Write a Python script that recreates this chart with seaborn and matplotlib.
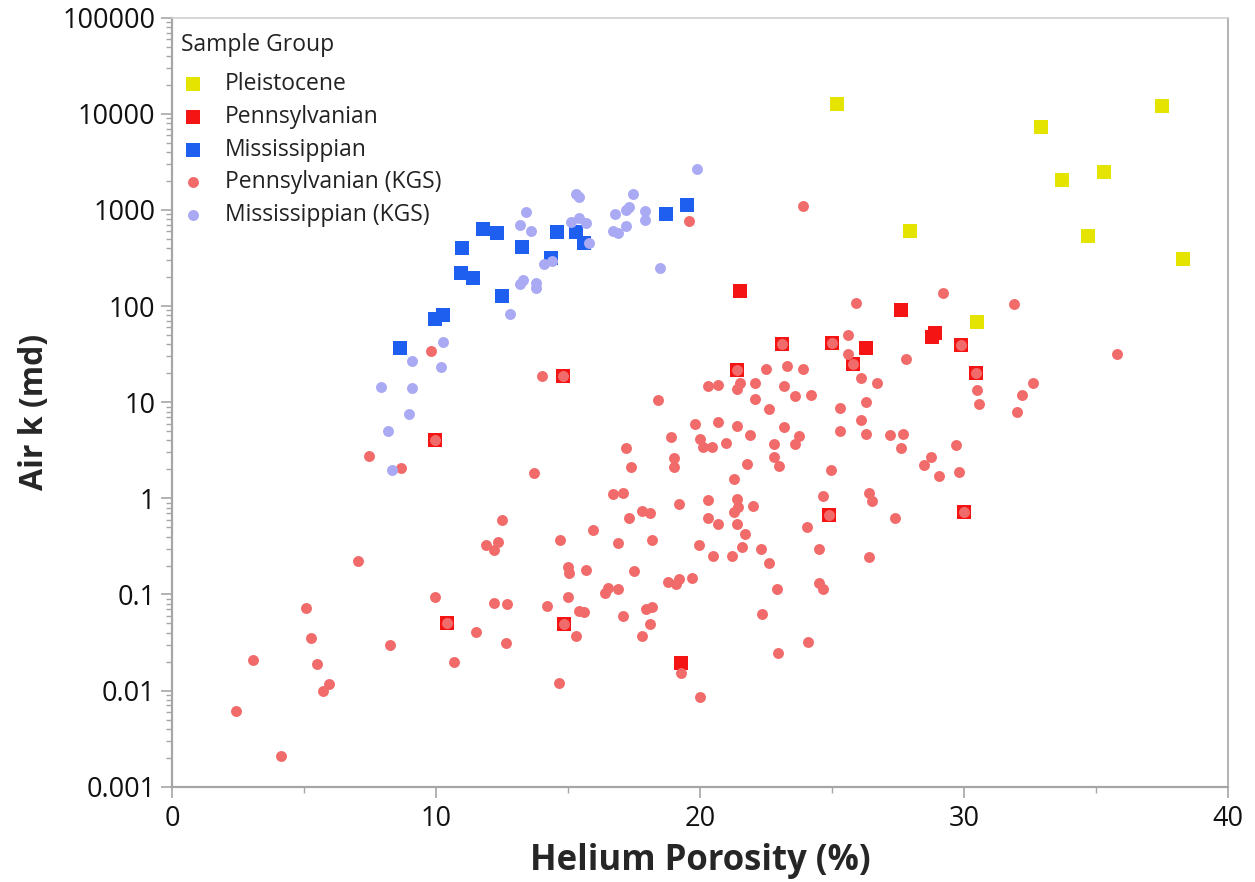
import numpy as np
import pandas as pd
import matplotlib
matplotlib.use("Agg")
import matplotlib.pyplot as plt
import seaborn as sns
from matplotlib.ticker import LogLocator, FixedLocator, FixedFormatter, NullFormatter, MultipleLocator

# ---- data: helium porosity (%) and air permeability (md) ----
pleistocene_phi = [25.2, 32.9, 33.7, 35.3, 34.7, 37.5, 38.3, 27.95, 30.5]
pleistocene_k = [12600, 7250, 2040, 2470, 530, 12000, 309, 600, 69]

pennsylvanian_phi = [21.5, 27.6, 26.3, 28.8, 28.9, 19.3, 14.8, 9.96, 10.4, 14.85,
                     21.4, 23.1, 25.0, 25.8, 29.9, 30.45, 24.9, 30.0]
pennsylvanian_k = [143, 91, 37, 48, 52, 0.0196, 18.6, 4.0, 0.05, 0.049,
                   21.5, 40, 41, 24.7, 39, 20, 0.67, 0.72]

mississippian_phi = [11.8, 12.3, 11.0, 13.26, 14.6, 15.3, 15.6, 14.36, 10.95, 11.4,
                     12.5, 9.96, 10.27, 8.64, 18.7, 19.5]
mississippian_k = [631, 575, 398, 408, 590, 590, 450, 315, 219, 195,
                   126, 74, 80, 36.5, 910, 1120]

penn_kgs_phi = [
    19.6, 23.9, 9.8, 14.0, 14.8, 9.96, 18.4, 20.3, 20.7, 19.8, 18.9, 20.0, 20.1, 20.45, 17.2,
    29.2, 25.9, 25.6, 25.6, 25.8, 27.8, 26.1, 26.7, 26.3, 25.3, 26.1, 25.3, 26.3, 27.2, 27.7,
    27.6, 29.7, 28.75, 28.5, 29.8, 29.05, 24.96, 30.5, 30.56,
    23.9, 23.3, 22.5, 23.2, 23.6, 24.2, 22.6, 22.1, 22.1, 21.4, 21.5, 21.4,
    21.4, 20.7, 23.2, 23.75, 23.6, 21.9, 22.8, 22.8, 23.0, 21.0, 19.0, 19.0, 21.8, 21.3,
    31.9, 35.8, 32.6, 32.2, 32.0, 23.1, 25.0, 29.9, 30.45,
    7.46, 8.67, 12.5, 11.9, 12.35, 12.2, 7.05, 9.96, 12.2, 12.7, 5.08, 5.27, 8.26, 10.4,
    11.5, 12.65, 3.07, 5.5, 10.7, 5.95, 5.72, 2.42, 4.13,
    17.4, 13.7, 16.7, 17.1, 19.2, 20.3, 21.4, 21.45, 21.3, 22.0, 17.8, 18.1, 17.3, 20.3,
    20.7, 21.4, 21.7, 14.7, 15.95, 16.9, 18.2, 19.96, 20.5, 21.2, 21.6, 22.3, 22.6, 15.0,
    15.04, 15.7, 17.5, 18.8, 19.1, 19.2, 19.7, 16.5, 16.4, 16.9, 22.9, 15.0, 14.2, 15.4,
    15.6, 17.95, 18.2, 17.1, 22.35, 18.1, 14.85, 15.3, 17.8, 19.3, 14.66, 20.0, 22.95,
    24.66, 26.4, 26.5, 27.4, 24.9, 30.0, 24.05, 24.5, 26.4, 24.5, 24.66, 24.1,
]
penn_kgs_k = [
    760, 1090, 34, 18.6, 18.6, 4.0, 10.5, 14.6, 15.0, 6.0, 4.3, 4.1, 3.4, 3.4, 3.3,
    138, 107, 50, 31.6, 24.7, 28, 17.7, 15.8, 10, 8.7, 6.6, 5.0, 4.7, 4.6, 4.7,
    3.3, 3.55, 2.7, 2.2, 1.86, 1.69, 1.95, 13.3, 9.5,
    22, 23.7, 22, 14.6, 11.5, 12, 8.4, 16, 10.7, 21.5, 15.8, 13.6,
    5.6, 6.2, 5.5, 4.5, 3.7, 4.6, 3.7, 2.7, 2.15, 3.8, 2.6, 2.1, 2.3, 1.6,
    105, 32, 15.8, 11.8, 8.0, 40, 41, 39, 20,
    2.74, 2.05, 0.59, 0.33, 0.35, 0.29, 0.225, 0.093, 0.081, 0.079, 0.072, 0.035, 0.030, 0.05,
    0.041, 0.031, 0.0206, 0.019, 0.020, 0.0118, 0.0098, 0.0062, 0.0021,
    2.1, 1.82, 1.1, 1.13, 0.87, 0.95, 0.98, 0.81, 0.72, 0.83, 0.73, 0.70, 0.63, 0.63,
    0.54, 0.54, 0.43, 0.37, 0.47, 0.34, 0.37, 0.33, 0.25, 0.25, 0.31, 0.30, 0.21, 0.195,
    0.166, 0.18, 0.174, 0.135, 0.128, 0.144, 0.15, 0.118, 0.103, 0.113, 0.113, 0.093, 0.075, 0.068,
    0.066, 0.070, 0.074, 0.059, 0.063, 0.049, 0.049, 0.037, 0.037, 0.0151, 0.0119, 0.0085, 0.0244,
    1.05, 1.13, 0.93, 0.62, 0.67, 0.72, 0.50, 0.30, 0.245, 0.131, 0.113, 0.032,
]

miss_kgs_phi = [19.9, 15.3, 15.4, 17.45, 13.4, 16.8, 17.2, 17.3, 17.9, 17.9, 17.2, 16.7, 16.9,
                13.2, 13.6, 15.1, 15.4, 15.7, 15.8, 14.1, 14.4, 13.3, 13.2, 13.8, 13.8, 12.8,
                18.5, 10.27, 9.1, 10.2, 7.9, 9.1, 8.98, 8.2, 8.33]
miss_kgs_k = [2650, 1480, 1350, 1450, 945, 910, 1000, 1070, 970, 780, 680, 600, 570,
              690, 600, 745, 815, 725, 450, 272, 293, 186, 168, 173, 154, 82,
              247, 42, 26.7, 23, 14.3, 14, 7.6, 5.0, 1.96]

groups = ["Pleistocene", "Pennsylvanian", "Mississippian",
          "Pennsylvanian (KGS)", "Mississippian (KGS)"]
series = {
    "Pleistocene": (pleistocene_phi, pleistocene_k),
    "Pennsylvanian": (pennsylvanian_phi, pennsylvanian_k),
    "Mississippian": (mississippian_phi, mississippian_k),
    "Pennsylvanian (KGS)": (penn_kgs_phi, penn_kgs_k),
    "Mississippian (KGS)": (miss_kgs_phi, miss_kgs_k),
}
colors = {
    "Pleistocene": "#E4E400",
    "Pennsylvanian": "#F51414",
    "Mississippian": "#1F5FF0",
    "Pennsylvanian (KGS)": "#F26B6B",
    "Mississippian (KGS)": "#A9A9F4",
}
markers = {"Pleistocene": "s", "Pennsylvanian": "s", "Mississippian": "s",
           "Pennsylvanian (KGS)": "o", "Mississippian (KGS)": "o"}
sizes = {"Pleistocene": 105, "Pennsylvanian": 105, "Mississippian": 105,
         "Pennsylvanian (KGS)": 62, "Mississippian (KGS)": 62}

frames = []
for g in groups:
    phi, k = series[g]
    frames.append(pd.DataFrame({"Helium Porosity (%)": phi, "Air k (md)": k, "Sample Group": g}))
df = pd.concat(frames, ignore_index=True)

sns.set_style("white")
plt.rcParams["font.family"] = ["Open Sans", "DejaVu Sans"]

fig = plt.figure(figsize=(12.55, 8.82), dpi=100)
ax = fig.add_axes([0.137, 0.108, 0.8415, 0.872])

# squares first, survey circles on top
for g in groups:
    sub = df[df["Sample Group"] == g]
    sns.scatterplot(data=sub, x="Helium Porosity (%)", y="Air k (md)", ax=ax,
                    color=colors[g], marker=markers[g], s=sizes[g],
                    linewidth=0, label=g, zorder=3)

ax.set_yscale("log")
ax.set_xlim(0, 40)
ax.set_ylim(0.001, 100000)

ytick_vals = [0.001, 0.01, 0.1, 1, 10, 100, 1000, 10000, 100000]
ytick_lbls = ["0.001", "0.01", "0.1", "1", "10", "100", "1000", "10000", "100000"]
ax.yaxis.set_major_locator(FixedLocator(ytick_vals))
ax.yaxis.set_major_formatter(FixedFormatter(ytick_lbls))
ax.yaxis.set_minor_locator(LogLocator(base=10, subs=np.arange(2, 10), numticks=20))
ax.yaxis.set_minor_formatter(NullFormatter())
ax.xaxis.set_major_locator(MultipleLocator(10))
ax.xaxis.set_minor_locator(MultipleLocator(5))

spine_col = "#A6A6A6"
for side in ["left", "bottom", "right", "top"]:
    ax.spines[side].set_visible(True)
    ax.spines[side].set_color(spine_col)
    ax.spines[side].set_linewidth(1.6 if side in ("left", "bottom") else 1.2)
ax.spines["top"].set_color("#D0D0D0")

ax.tick_params(axis="both", which="major", direction="out", length=8, width=1.2,
               color=spine_col, labelsize=19.5, labelcolor="#111111", pad=4)
ax.tick_params(axis="both", which="minor", direction="out", length=4, width=1.0,
               color=spine_col)
ax.tick_params(axis="x", which="major", pad=5)
ax.tick_params(axis="y", which="both", left=True)
ax.tick_params(axis="x", which="both", bottom=True)

ax.set_xlabel("Helium Porosity (%)", fontsize=25, fontweight="bold", labelpad=7)
ax.set_ylabel("Air k (md)", fontsize=23, fontweight="bold", labelpad=8)
ax.yaxis.label.set_y(0.487)

leg = ax.legend(title="Sample Group", loc="upper left", frameon=False,
                fontsize=16.5, title_fontsize=16.5, handlelength=1.0,
                handletextpad=0.9, labelspacing=0.38, borderaxespad=0.0,
                markerscale=1.0, bbox_to_anchor=(0.0, 0.992))
leg._legend_box.align = "left"
leg._legend_box.sep = 11.0
for t in leg.get_texts():
    t.set_color("#222222")
leg.get_title().set_color("#222222")

fig.savefig("out.png", dpi=100)
